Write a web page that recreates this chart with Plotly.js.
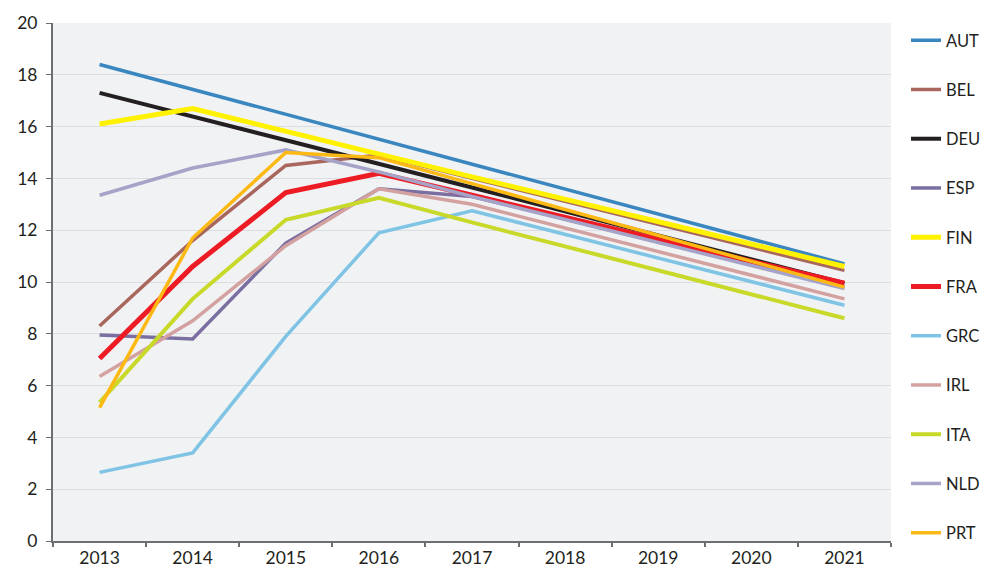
<!DOCTYPE html>
<html>
<head>
<meta charset="utf-8">
<script src="https://cdn.plot.ly/plotly-3.0.1.min.js"></script>
<style>html,body{margin:0;padding:0;background:#fff;}#chart{width:993px;height:574px;}</style>
</head>
<body>
<div id="chart"></div>
<script>
const years = ["2013","2014","2015","2016","2017","2018","2019","2020","2021"];
const AUT = [18.4, null, null, null, 14.55, null, null, null, 10.7];
const BEL = [8.3, 11.6, 14.5, 14.9, 14.0, null, null, null, 10.45];
const DEU = [17.3, null, null, null, 13.65, null, null, null, 9.95];
const ESP = [7.95, 7.8, 11.5, 13.6, 13.3, null, null, null, 9.8];
const FIN = [16.1, 16.7, null, null, 14.06, null, null, null, 10.6];
const FRA = [7.05, 10.6, 13.45, 14.2, 13.35, null, null, null, 9.95];
const GRC = [2.65, 3.4, 7.9, 11.9, 12.75, null, null, null, 9.1];
const IRL = [6.35, 8.5, 11.4, 13.6, 13.0, null, null, null, 9.35];
const ITA = [5.35, 9.35, 12.4, 13.25, 12.3, null, null, null, 8.6];
const NLD = [13.35, 14.4, 15.1, 14.25, 13.3, null, null, null, 9.75];
const PRT = [5.15, 11.7, 15.0, 14.8, 13.8, null, null, null, 9.8];
const yTicks = [0,2,4,6,8,10,12,14,16,18,20];

const series = [
  {name:"AUT", y:AUT, color:"#3a87c0", w:3.5},
  {name:"BEL", y:BEL, color:"#a9665d", w:3.5},
  {name:"DEU", y:DEU, color:"#231f20", w:4},
  {name:"ESP", y:ESP, color:"#7a6fa0", w:3.5},
  {name:"FIN", y:FIN, color:"#fff200", w:5},
  {name:"FRA", y:FRA, color:"#ed1c24", w:5},
  {name:"GRC", y:GRC, color:"#7fc4e4", w:3.5},
  {name:"IRL", y:IRL, color:"#d4a1a1", w:3.5},
  {name:"ITA", y:ITA, color:"#c8d92a", w:4},
  {name:"NLD", y:NLD, color:"#a6a3c8", w:3.5},
  {name:"PRT", y:PRT, color:"#fdb913", w:3.5}
];

const traces = series.map(s => ({
  type:"scatter", mode:"lines", name:s.name, x:years, y:s.y,
  connectgaps:true, legendgroup:s.name,
  line:{color:s.color, width:s.w}
}));

const font = "Lato, 'Open Sans', sans-serif";
const layout = {
  width:993, height:574,
  margin:{l:53, r:102, t:23, b:33, autoexpand:false},
  paper_bgcolor:"#ffffff", plot_bgcolor:"#f1f2f4",
  font:{family:font, size:17, color:"#231f20"},
  showlegend:true,
  legend:{x:0.9124, xref:"container", xanchor:"left", y:1, yanchor:"top",
    font:{family:font, size:16.5, color:"#231f20"},
    tracegroupgap:24.8, bgcolor:"rgba(0,0,0,0)"},
  xaxis:{type:"category", categoryorder:"array", categoryarray:years, range:[-0.5,8.5],
    showgrid:false, showline:true, linecolor:"#6d6e71", linewidth:2,
    ticks:"outside", tickson:"boundaries", ticklen:4, tickcolor:"#6d6e71", tickwidth:2,
    tickfont:{family:font, size:17.5, color:"#231f20"}, zeroline:false, fixedrange:true},
  yaxis:{range:[0,20], tickvals:yTicks, showgrid:true, gridcolor:"#dcdde0", gridwidth:1,
    showline:true, linecolor:"#6d6e71", linewidth:2, ticks:"outside", ticklen:5,
    tickcolor:"#6d6e71", tickwidth:1, zeroline:false,
    tickfont:{family:font, size:17.5, color:"#231f20"}, ticklabelstandoff:5, fixedrange:true}
};
Plotly.newPlot("chart", traces, layout, {displayModeBar:false, staticPlot:true});
</script>
</body>
</html>
